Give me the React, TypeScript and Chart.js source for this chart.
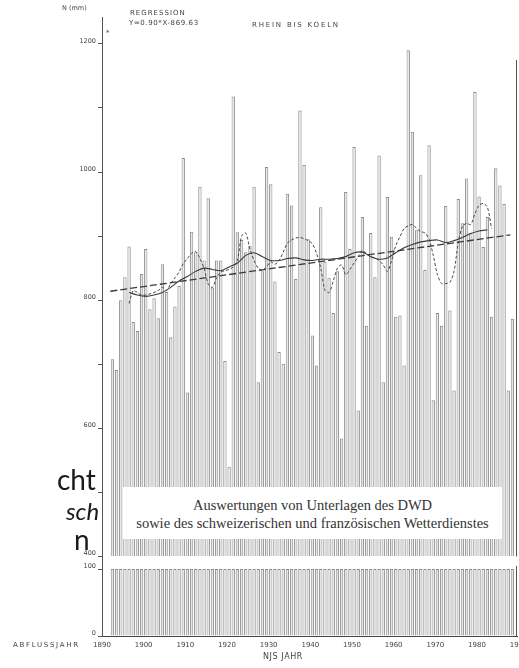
import React, { useEffect, useRef } from 'react';
import { Chart, registerables } from 'chart.js';

Chart.register(...registerables);

// ---- data ----
const FIRST_BAR_YEAR = 1892;
const precipitation = [
  708, 691, 800, 836, 884, 766, 752, 841, 880, 786,
  803, 772, 856, 813, 742, 790, 822, 1022, 656, 907,
  875, 977, 862, 959, 820, 862, 862, 705, 540, 1118,
  906, 894, 875, 885, 977, 672, 845, 1008, 981, 829,
  719, 701, 966, 948, 833, 1096, 1011, 895, 745, 698,
  945, 860, 835, 780, 845, 584, 969, 880, 1039, 628,
  930, 760, 905, 836, 1026, 672, 961, 899, 774, 776,
  698, 1190, 1063, 909, 995, 847, 1042, 644, 780, 760,
  947, 784, 659, 958, 920, 990, 905, 1125, 962, 883,
  930, 774, 1006, 979, 950, 659, 771,
];
const barYears = precipitation.map((_, i) => FIRST_BAR_YEAR + i);

const FIRST_MA_YEAR = 1896;
const movingAverage = [
  795, 815, 812, 808, 808, 810, 812, 815, 820, 815,
  826, 835, 844, 857, 865, 873, 876, 865, 850, 825,
  820, 835, 844, 846, 848, 852, 862, 900, 905, 880,
  862, 850, 847, 852, 860, 856, 862, 875, 889, 894,
  897, 898, 896, 893, 888, 873, 850, 816, 812, 830,
  850, 855, 840, 848, 858, 868, 878, 872, 868, 866,
  862, 855, 845, 862, 885, 899, 912, 916, 918, 912,
  907, 905, 895, 870, 840, 826, 826, 828, 845, 890,
  915, 920, 918, 935, 948, 951, 945, 912,
];
const movingAverageYears = movingAverage.map((_, i) => FIRST_MA_YEAR + i);

const smoothYears = [
  1896, 1898, 1900, 1902, 1904, 1906, 1908, 1910, 1912, 1914, 1916,
  1918, 1920, 1922, 1924, 1926, 1928, 1930, 1932, 1934, 1936, 1938,
  1940, 1942, 1944, 1946, 1948, 1950, 1952, 1954, 1956, 1958, 1960,
  1962, 1964, 1966, 1968, 1970, 1972, 1974, 1976, 1978, 1980, 1982,
];
const smoothValues = [
  812, 808, 806, 808, 812, 820, 830, 837, 845, 850, 848,
  846, 852, 858, 870, 874, 868, 862, 862, 865, 866, 863,
  862, 864, 864, 865, 868, 874, 875, 868, 864, 866, 874,
  882, 887, 891, 893, 894, 890, 893, 898, 904, 908, 910,
];

const regressionYears = [1892, 1988];
const regressionValues = [814, 902];

const xTickYears = [1890, 1900, 1910, 1920, 1930, 1940, 1950, 1960, 1970, 1980, 1990];
const upperTicks = [400, 500, 600, 700, 800, 900, 1000, 1100, 1200];
const upperLabelStep = 200;
const lowerTicks = [0, 100];

// ---- scale ranges ----
const X_MIN = 1890;
const X_MAX = 1989.6;
const UPPER_MIN = 400;
const UPPER_MAX = 1242;
const LOWER_MIN = 0;
const LOWER_CAP = 100;
const LOWER_MAX = 118.7;
const FRAME_TOP_VALUE = 1175;

const BAR_FILL = '#e6e6e6';
const BAR_EDGE = '#8c8c8c';
const LINE = '#3a3a3a';
const AXIS = '#555';
const TEXT = '#444';
const PLOT_FONT = '"DejaVu Sans", "Liberation Sans", sans-serif';
const SLIDE_FONT = 'Lato, "Open Sans", sans-serif';

const framePlugin = {
  id: 'frame',
  afterDraw(chart: any) {
    const { ctx, chartArea, scales } = chart;
    const yTop = scales.y;
    const yBot = scales.y2;
    const x = Math.round(chartArea.right) - 0.5;
    ctx.save();
    ctx.strokeStyle = AXIS;
    ctx.lineWidth = 1;
    ctx.beginPath();
    ctx.moveTo(x, yTop.getPixelForValue(FRAME_TOP_VALUE));
    ctx.lineTo(x, yTop.getPixelForValue(UPPER_MIN));
    ctx.moveTo(x, yBot.getPixelForValue(LOWER_CAP) - 3);
    ctx.lineTo(x, yBot.getPixelForValue(LOWER_MIN));
    ctx.stroke();
    ctx.restore();
  },
};

function Txt(props: { left: number; top: number; size: number; spacing?: number; children: React.ReactNode; style?: React.CSSProperties }) {
  return (
    <div
      style={{
        position: 'absolute',
        left: props.left,
        top: props.top,
        fontFamily: PLOT_FONT,
        fontSize: props.size,
        lineHeight: 1,
        letterSpacing: props.spacing ?? 0,
        color: TEXT,
        whiteSpace: 'nowrap',
        ...props.style,
      }}
    >
      {props.children}
    </div>
  );
}

export default function App() {
  const ref = useRef<HTMLCanvasElement>(null);

  useEffect(() => {
    const canvas = ref.current;
    if (!canvas) return;
    const tickFontY = { family: PLOT_FONT, size: 6.5 };
    const tickFontX = { family: PLOT_FONT, size: 7 };

    const barStyle = {
      grouped: false,
      backgroundColor: BAR_FILL,
      borderColor: BAR_EDGE,
      borderWidth: 1,
      barPercentage: 0.8,
      categoryPercentage: 1,
      order: 1,
    };

    const chart = new Chart(canvas, {
      type: 'bar',
      data: {
        datasets: [
          {
            type: 'line',
            label: 'Regression',
            data: regressionYears.map((y, i) => ({ x: y, y: regressionValues[i] })),
            yAxisID: 'y',
            borderColor: LINE,
            borderWidth: 1.3,
            borderDash: [7, 3],
            pointRadius: 0,
            order: 0,
          },
          {
            type: 'line',
            label: 'Glättung',
            data: smoothYears.map((y, i) => ({ x: y + 0.5, y: smoothValues[i] })),
            yAxisID: 'y',
            borderColor: LINE,
            borderWidth: 1.1,
            pointRadius: 0,
            tension: 0.3,
            order: 0,
          },
          {
            type: 'line',
            label: 'Gleitendes Mittel',
            data: movingAverageYears.map((y, i) => ({ x: y + 0.5, y: movingAverage[i] })),
            yAxisID: 'y',
            borderColor: '#484848',
            borderWidth: 1,
            borderDash: [3, 2],
            pointRadius: 0,
            tension: 0.3,
            order: 0,
          },
          {
            type: 'bar',
            label: 'N',
            data: barYears.map((y, i) => ({ x: y + 0.5, y: precipitation[i] })),
            yAxisID: 'y',
            base: UPPER_MIN,
            ...barStyle,
          },
          {
            type: 'bar',
            label: 'N unten',
            data: barYears.map((y, i) => ({ x: y + 0.5, y: [LOWER_MIN, Math.min(precipitation[i], LOWER_CAP)] })),
            yAxisID: 'y2',
            ...barStyle,
          },
        ],
      } as any,
      options: {
        responsive: false,
        animation: false,
        devicePixelRatio: 1,
        layout: { padding: { top: 17, right: 2, bottom: 0, left: 0 } },
        plugins: { legend: { display: false }, tooltip: { enabled: false } },
        scales: {
          x: {
            type: 'linear',
            min: X_MIN,
            max: X_MAX,
            offset: false,
            afterBuildTicks: (s: any) => {
              s.ticks = xTickYears.map((v) => ({ value: v }));
            },
            afterFit: (s: any) => {
              s.height = 32;
              s.paddingLeft = 0;
              s.paddingRight = 0;
            },
            grid: { display: false, drawTicks: false, offset: false },
            border: { color: '#444', width: 1 },
            ticks: {
              autoSkip: false,
              maxRotation: 0,
              minRotation: 0,
              padding: 5,
              color: TEXT,
              font: tickFontX,
              callback: (v: any) => String(v),
            },
          },
          y: {
            type: 'linear',
            position: 'left',
            stack: 'v',
            stackWeight: 539.5,
            weight: 2,
            min: UPPER_MIN,
            max: UPPER_MAX,
            afterBuildTicks: (s: any) => {
              s.ticks = upperTicks.map((v) => ({ value: v }));
            },
            afterFit: (s: any) => {
              s.width = 102;
              s.paddingTop = 0;
              s.paddingBottom = 0;
            },
            grid: { drawOnChartArea: false, tickLength: 4, tickColor: AXIS, tickWidth: 1 },
            border: { color: AXIS, width: 1 },
            ticks: {
              padding: 2,
              labelOffset: -3,
              color: TEXT,
              font: tickFontY,
              autoSkip: false,
              callback: (v: any) => (Number(v) % upperLabelStep === 0 ? String(v) : ''),
            },
          },
          y2: {
            type: 'linear',
            position: 'left',
            stack: 'v',
            stackWeight: 79.5,
            weight: 1,
            min: LOWER_MIN,
            max: LOWER_MAX,
            afterBuildTicks: (s: any) => {
              s.ticks = lowerTicks.map((v) => ({ value: v }));
            },
            afterFit: (s: any) => {
              s.width = 102;
              s.paddingTop = 0;
              s.paddingBottom = 0;
            },
            grid: { drawOnChartArea: false, tickLength: 4, tickColor: AXIS, tickWidth: 1 },
            border: { color: AXIS, width: 1 },
            ticks: {
              padding: 2,
              labelOffset: -3,
              color: TEXT,
              font: tickFontY,
              autoSkip: false,
              callback: (v: any) => String(v),
            },
          },
        },
      } as any,
      plugins: [framePlugin],
    });
    return () => chart.destroy();
  }, []);

  return (
    <div style={{ position: 'absolute', left: 0, top: 0, width: 519, height: 668, background: '#fff', overflow: 'hidden' }}>
      <canvas ref={ref} width={519} height={668} style={{ position: 'absolute', left: 0, top: 0, width: 519, height: 668 }} />

      <Txt left={62} top={5} size={6.5}>N (mm)</Txt>
      <Txt left={106} top={30} size={7}>*</Txt>
      <Txt left={130} top={9.5} size={7} spacing={1}>REGRESSION</Txt>
      <Txt left={129} top={19.5} size={7} spacing={0.6}>Y=0.90*X-869.63</Txt>
      <Txt left={252} top={21.5} size={7} spacing={1.8}>RHEIN BIS KOELN</Txt>
      <Txt left={13} top={641.5} size={7} spacing={1.7}>ABFLUSSJAHR</Txt>
      <Txt left={263} top={653} size={8} spacing={0.6}>NJS JAHR</Txt>

      <div
        style={{
          position: 'absolute',
          left: 123,
          top: 487,
          width: 379,
          height: 52,
          background: '#fff',
          boxSizing: 'border-box',
          paddingTop: 9,
          textAlign: 'center',
          fontFamily: '"Liberation Serif", "Times New Roman", serif',
          fontSize: 14.5,
          lineHeight: '18px',
          color: '#333',
          whiteSpace: 'nowrap',
        }}
      >
        <div>Auswertungen von Unterlagen des DWD</div>
        <div>sowie des schweizerischen und französischen Wetterdienstes</div>
      </div>

      <div style={{ position: 'absolute', left: 57, top: 465, fontFamily: SLIDE_FONT, fontSize: 28, lineHeight: 1, color: '#1a1a1a' }}>cht</div>
      <div style={{ position: 'absolute', left: 66, top: 499, fontFamily: SLIDE_FONT, fontStyle: 'italic', fontSize: 24, lineHeight: 1, color: '#1a1a1a' }}>sch</div>
      <div style={{ position: 'absolute', left: 74, top: 525, fontFamily: SLIDE_FONT, fontSize: 28, lineHeight: 1, color: '#1a1a1a' }}>n</div>
    </div>
  );
}
